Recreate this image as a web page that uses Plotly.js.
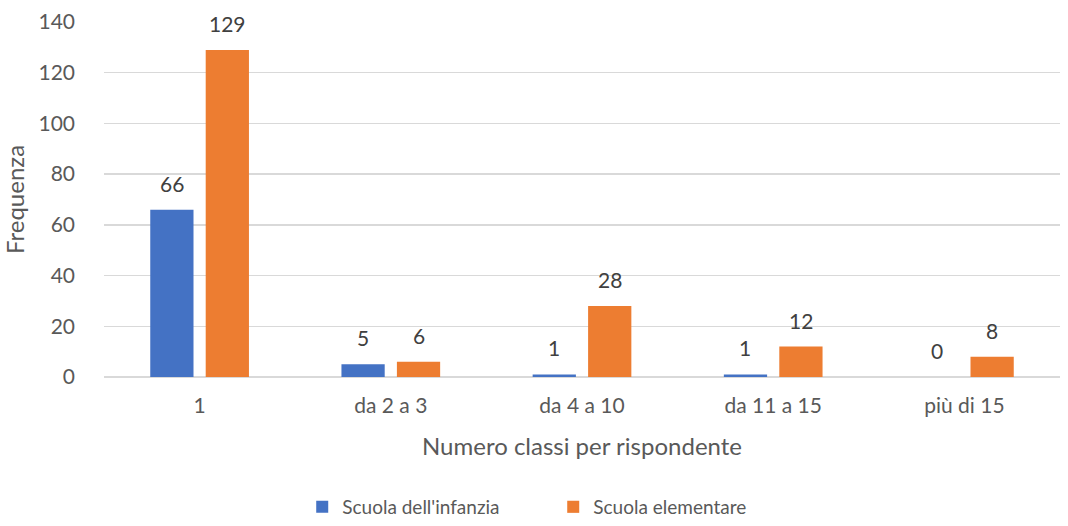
<!DOCTYPE html>
<html>
<head>
<meta charset="utf-8">
<script src="https://cdn.plot.ly/plotly-3.0.1.min.js"></script>
<style>
  html, body { margin: 0; padding: 0; background: #fff; }
  #plot { width: 1068px; height: 526px; }
</style>
</head>
<body>
<div id="plot"></div>
<script>
// categories and values
let categorie = ["1", "da 2 a 3", "da 4 a 10", "da 11 a 15", "più di 15"]
let infanzia = [66, 5, 1, 1, 0]
let elementare = [129, 6, 28, 12, 8]

let font = "Lato, 'Open Sans', sans-serif"
let grey = "#595959"

let trace1 = {
  x: categorie,
  y: infanzia,
  name: "Scuola dell'infanzia",
  type: "bar",
  marker: {color: "#4472c4"},
  hoverinfo: "none"
};
let trace2 = {
  x: categorie,
  y: elementare,
  name: "Scuola elementare",
  type: "bar",
  marker: {color: "#ed7d31"},
  hoverinfo: "none"
};
let data = [trace1, trace2];

// geometry of the plot, used to put the value labels over the bars
let W = 1068, H = 526
let mL = 104, mR = 8, mT = 22, mB = 149
let bargap = 0.42
let slot = (W - mL - mR) / categorie.length * (1 - bargap) / 2

// value labels above each bar (x given as category index)
let annotations = []
for (let i = 0; i < categorie.length; i++) {
  annotations.push({x: i, y: infanzia[i], text: String(infanzia[i]),
    xshift: -slot / 2, yshift: 12, yanchor: "bottom", showarrow: false,
    font: {size: 21, color: "#404040"}})
  annotations.push({x: i, y: elementare[i], text: String(elementare[i]),
    xshift: slot / 2, yshift: 12, yanchor: "bottom", showarrow: false,
    font: {size: 21, color: "#404040"}})
}

let layout = {
  width: W,
  height: H,
  paper_bgcolor: "#fff",
  plot_bgcolor: "#fff",
  font: {family: font, color: grey, size: 20},
  barmode: "group",
  bargap: bargap,
  bargroupgap: 0.22,
  showlegend: true,
  legend: {
    orientation: "h",
    x: 0.518, xref: "container", xanchor: "center",
    y: -0.012, yref: "container", yanchor: "bottom",
    font: {size: 19, color: grey},
    itemwidth: 30,
    entrywidth: 206,
    traceorder: "normal"
  },
  annotations: annotations,
  xaxis: {
    type: "category",
    showgrid: false,
    showline: false,
    ticks: "",
    automargin: false,
    tickangle: 0,
    ticklabelstandoff: 14,
    tickfont: {size: 21, color: grey},
    title: {text: "Numero classi per rispondente", font: {size: 24, color: grey}, standoff: 22}
  },
  yaxis: {
    range: [0, 140],
    dtick: 20,
    gridcolor: "#d9d9d9",
    gridwidth: 1.5,
    zeroline: true,
    zerolinecolor: "#d9d9d9",
    zerolinewidth: 1.5,
    ticks: "",
    automargin: false,
    ticklabelstandoff: 28,
    tickfont: {size: 21, color: grey},
    title: {text: "Frequenza", font: {size: 24, color: grey}, standoff: 10}
  },
  margin: {l: mL, r: mR, t: mT, b: mB, pad: 0}
};

Plotly.newPlot("plot", data, layout, {displayModeBar: false, staticPlot: true});
</script>
</body>
</html>
